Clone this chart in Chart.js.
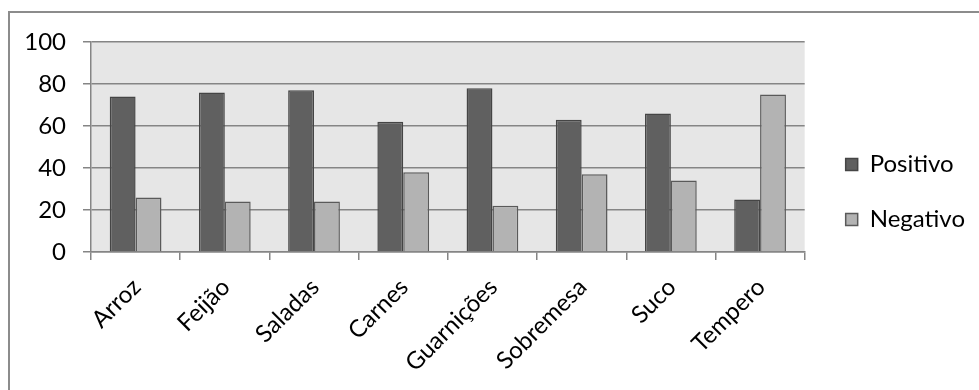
<!DOCTYPE html>
<html>
<head>
<meta charset="utf-8">
<script src="https://cdn.jsdelivr.net/npm/chart.js@4/dist/chart.umd.min.js"></script>
<style>
  html, body { margin: 0; padding: 0; background: #ffffff; }
  #wrap { position: relative; width: 979px; height: 390px; overflow: hidden; }
  #frame { position: absolute; left: 8px; top: 11px; width: 1000px; height: 400px;
           border-left: 2px solid #8c8c8c; border-top: 2px solid #8c8c8c; }
  canvas { position: absolute; left: 0; top: 0; }
</style>
</head>
<body>
<div id="wrap">
  <div id="frame"></div>
  <canvas id="c" width="979" height="390"></canvas>
</div>
<script>
// Avaliação por item do cardápio (%)
const categories = ['Arroz', 'Feijão', 'Saladas', 'Carnes', 'Guarnições', 'Sobremesa', 'Suco', 'Tempero'];
const positivo = [74, 76, 77, 62, 78, 63, 66, 25];
const negativo = [26, 24, 24, 38, 22, 37, 34, 75];
const yTicks = [0, 20, 40, 60, 80, 100];

const FONT = 'Lato, "Liberation Sans", sans-serif';
const GRID = '#858585';

// Light grey plot background
const plotBackground = {
  id: 'plotBackground',
  beforeDraw(chart) {
    const { ctx, chartArea: a } = chart;
    ctx.save();
    ctx.fillStyle = '#e6e6e6';
    ctx.fillRect(a.left, a.top, a.right - a.left, a.bottom - a.top);
    ctx.restore();
  }
};

// Shift the legend block toward the plot and up to the frame's middle
const legendOffset = { dx: 10, dy: -24 };
const legendNudge = {
  id: 'legendNudge',
  afterLayout(chart) {
    const lg = chart.legend;
    if (!lg) return;
    lg.left += legendOffset.dx; lg.right += legendOffset.dx;
    lg.top += legendOffset.dy; lg.bottom += legendOffset.dy;
  }
};

new Chart(document.getElementById('c'), {
  type: 'bar',
  data: {
    labels: categories,
    datasets: [
      { label: 'Positivo', data: positivo, backgroundColor: '#606060', borderColor: '#454545', borderWidth: 1.5 },
      { label: 'Negativo', data: negativo, backgroundColor: '#b3b3b3', borderColor: '#5a5a5a', borderWidth: 1.5 }
    ]
  },
  options: {
    responsive: false,
    animation: false,
    layout: { padding: { left: 0, top: 42, right: 14, bottom: 0 } },
    datasets: { bar: { categoryPercentage: 0.58, barPercentage: 1.0 } },
    scales: {
      x: {
        offset: true,
        grid: { display: true, offset: true, drawOnChartArea: false, drawTicks: true, tickLength: 8, color: GRID, lineWidth: 1.5 },
        border: { display: true, color: GRID, width: 1.5 },
        ticks: { color: '#000', font: { family: FONT, size: 24 }, maxRotation: 45, minRotation: 45, padding: 13, labelOffset: 1 },
        afterFit(scale) { scale.height = 138; }
      },
      y: {
        min: 0, max: 100,
        afterBuildTicks(scale) { scale.ticks = yTicks.map(v => ({ value: v })); },
        grid: { color: GRID, lineWidth: 1.5, drawTicks: true, tickLength: 8 },
        border: { display: true, color: GRID, width: 1.5 },
        ticks: { color: '#000', font: { family: FONT, size: 24 }, padding: 17 },
        afterFit(scale) { scale.width = 91; }
      }
    },
    plugins: {
      legend: {
        position: 'right',
        labels: { color: '#000', font: { family: FONT, size: 24 }, boxWidth: 12, boxHeight: 12, padding: 31 }
      },
      tooltip: { enabled: false }
    }
  },
  plugins: [plotBackground, legendNudge]
});
</script>
</body>
</html>
